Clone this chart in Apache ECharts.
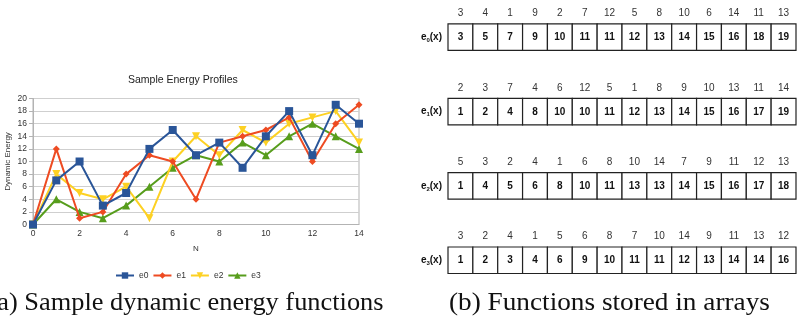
<!DOCTYPE html>
<html>
<head>
<meta charset="utf-8">
<script src="https://cdn.jsdelivr.net/npm/echarts@6/dist/echarts.min.js"></script>
<style>html,body{margin:0;padding:0;background:#fff;}#c{width:797px;height:320px;}</style>
</head>
<body>
<div id="c"></div>
<script>
// ---- Data: left chart ----
const N = [0,1,2,3,4,5,6,7,8,9,10,11,12,13,14];
const e0 = [0,7,10,3,5,12,15,11,13,9,14,18,11,19,16];
const e1 = [0,12,1,2,8,11,10,4,13,14,15,17,10,16,19];
const e2 = [0,8,5,4,6,1,10,14,11,15,13,16,17,18,13];
const e3 = [0,4,2,1,3,6,9,11,10,13,11,14,16,14,12];
const seriesNames = ['e0','e1','e2','e3'];
const yTicks = [0,2,4,6,8,10,12,14,16,18,20];

// ---- Data: right arrays ----
const rowLabels = ['0','1','2','3'];
const e0Idx = [3,4,1,9,2,7,12,5,8,10,6,14,11,13];
const e0Val = [3,5,7,9,10,11,11,12,13,14,15,16,18,19];
const e1Idx = [2,3,7,4,6,12,5,1,8,9,10,13,11,14];
const e1Val = [1,2,4,8,10,10,11,12,13,14,15,16,17,19];
const e2Idx = [5,3,2,4,1,6,8,10,14,7,9,11,12,13];
const e2Val = [1,4,5,6,8,10,11,13,13,14,15,16,17,18];
const e3Idx = [3,2,4,1,5,6,8,7,10,14,9,11,13,12];
const e3Val = [1,2,3,4,6,9,10,11,11,12,13,14,14,16];

const captionA = '(a) Sample dynamic energy functions';
const captionB = '(b) Functions stored in arrays';

const colors = ['#2a5598','#ee4b22','#fdd123','#579d1c'];
const symbols = ['rect','diamond','triangle','triangle'];
const symRot = [0,0,180,0];
const symSize = [8,7,8,8];
const lineData = [e0,e1,e2,e3];

const idxRows = [e0Idx,e1Idx,e2Idx,e3Idx];
const valRows = [e0Val,e1Val,e2Val,e3Val];
const cellData = [];
for (let r = 0; r < valRows.length; r++) {
  for (let c = 0; c < valRows[r].length; c++) {
    cellData.push([c, r, valRows[r][c], idxRows[r][c]]);
  }
}

const chart = echarts.init(document.getElementById('c'), null, {renderer:'canvas'});
const sans = 'Liberation Sans';
const lineSeries = lineData.map((d,i) => ({
  name: seriesNames[i],
  type: 'line',
  xAxisIndex: 0, yAxisIndex: 0,
  data: d.map((v,k) => [N[k], v]),
  symbol: symbols[i],
  symbolSize: symSize[i],
  symbolRotate: symRot[i],
  showAllSymbol: true,
  lineStyle: {width: 2, color: colors[i]},
  itemStyle: {color: colors[i]},
  z: 3 + (3 - i),
  animation: false
}));

const option = {
  animation: false,
  title: {
    text: 'Sample Energy Profiles',
    left: 128, top: 75,
    padding: 0,
    textStyle: {fontFamily: sans, fontSize: 10.5, fontWeight: 'normal', color: '#222'}
  },
  legend: {
    data: seriesNames,
    left: 115, top: 271,
    itemWidth: 18, itemHeight: 8, itemGap: 4,
    padding: 0,
    textStyle: {fontFamily: sans, fontSize: 8.5, color: '#333'}
  },
  grid: [
    {left: 33, top: 98.5, width: 326, height: 126, show: true, borderColor: '#b3b3b3', borderWidth: 1, containLabel: false},
    {left: 448, top: -1, width: 348, height: 298.4, containLabel: false}
  ],
  xAxis: [
    {
      type: 'value', gridIndex: 0, min: 0, max: 14, interval: 2,
      name: 'N', nameLocation: 'middle', nameGap: 20,
      nameTextStyle: {fontFamily: sans, fontSize: 8, color: '#333'},
      axisLine: {show: true, lineStyle: {color: '#b3b3b3'}},
      axisTick: {show: false},
      splitLine: {show: false},
      axisLabel: {fontFamily: sans, fontSize: 8.5, color: '#333', margin: 5}
    },
    {
      type: 'category', gridIndex: 1, data: e0Idx.map((_,i)=>i),
      show: false
    }
  ],
  yAxis: [
    {
      type: 'value', gridIndex: 0, min: 0, max: 20, interval: 2,
      name: 'Dynamic Energy', nameLocation: 'middle', nameGap: 21, nameRotate: 90,
      nameTextStyle: {fontFamily: sans, fontSize: 8, color: '#333'},
      axisLine: {show: true, lineStyle: {color: '#b3b3b3'}},
      axisTick: {show: true, length: 4, lineStyle: {color: '#b3b3b3'}},
      splitLine: {show: true, lineStyle: {color: '#cfcfcf', width: 1}},
      axisLabel: {fontFamily: sans, fontSize: 8.5, color: '#333', margin: 6,
        formatter: v => yTicks.indexOf(v) >= 0 ? String(v) : ''}
    },
    {
      type: 'category', gridIndex: 1, data: rowLabels, inverse: true,
      axisLine: {show: false}, axisTick: {show: false}, splitLine: {show: false},
      axisLabel: {
        margin: 6,
        formatter: v => '{e|e}{s|' + v + '}{e|(x)}',
        rich: {
          e: {fontFamily: sans, fontSize: 10, fontWeight: 'bold', color: '#111'},
          s: {fontFamily: sans, fontSize: 6, fontWeight: 'bold', color: '#111', padding: [6,0,0,0]}
        }
      }
    }
  ],
  series: lineSeries.concat([{
    type: 'custom',
    xAxisIndex: 1, yAxisIndex: 1,
    data: cellData,
    renderItem: function (params, api) {
      const p = api.coord([api.value(0), api.value(1)]);
      const w = api.size([1, 0])[0];
      const h = 26.5;
      return {
        type: 'group',
        children: [
          {type: 'rect', shape: {x: p[0] - w/2, y: p[1] - h/2, width: w, height: h},
           style: {fill: '#fff', stroke: '#222', lineWidth: 1.2}},
          {type: 'text', style: {text: String(api.value(2)), x: p[0], y: p[1] + 0.5, align: 'center', verticalAlign: 'middle',
           font: 'bold 10px "Liberation Sans"', fill: '#111'}},
          {type: 'text', style: {text: String(api.value(3)), x: p[0], y: p[1] - 23.6, align: 'center', verticalAlign: 'middle',
           font: '10px "Liberation Sans"', fill: '#333'}}
        ]
      };
    },
    animation: false
  }]),
  graphic: [
    {type: 'text', x: -11.5, y: 303, scaleX: 1.055, style: {text: captionA, font: '25px "Liberation Serif"', fill: '#111', align: 'left', verticalAlign: 'middle'}},
    {type: 'text', x: 449, y: 303, scaleX: 1.09, style: {text: captionB, font: '25px "Liberation Serif"', fill: '#111', align: 'left', verticalAlign: 'middle'}}
  ]
};
chart.setOption(option);
</script>
</body>
</html>
